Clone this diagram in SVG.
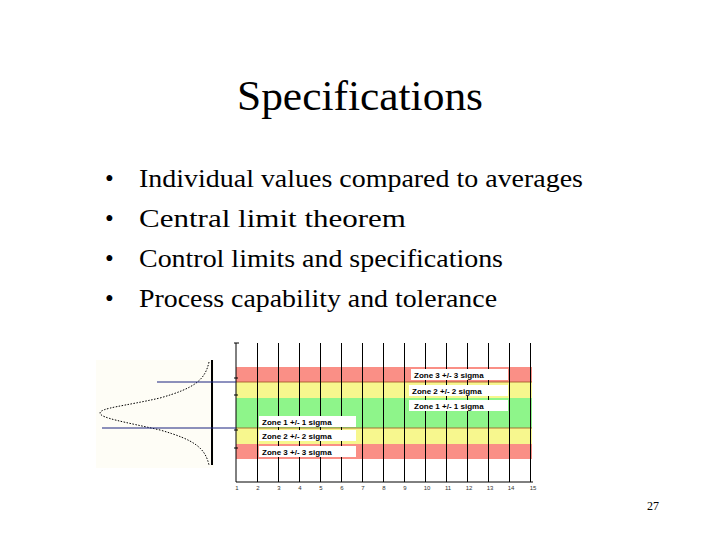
<svg xmlns="http://www.w3.org/2000/svg" width="720" height="540" viewBox="0 0 720 540">
<style>
.t{font-family:"Liberation Serif",serif;fill:#000}
.z{font-family:"Liberation Sans",sans-serif;font-size:8px;font-weight:bold;fill:#000}
.n{font-family:"Liberation Sans",sans-serif;font-size:6px;fill:#333}
.g{stroke:#000;stroke-width:1}
</style>
<rect width="720" height="540" fill="#fff"/>
<text class="t" x="237" y="110" font-size="42" textLength="246" lengthAdjust="spacingAndGlyphs">Specifications</text>
<g class="t" font-size="25">
<text x="105" y="187">•</text><text x="139" y="187" textLength="444" lengthAdjust="spacingAndGlyphs">Individual values compared to averages</text>
<text x="105" y="227">•</text><text x="139" y="227" textLength="267" lengthAdjust="spacingAndGlyphs">Central limit theorem</text>
<text x="105" y="267">•</text><text x="139" y="267" textLength="364" lengthAdjust="spacingAndGlyphs">Control limits and specifications</text>
<text x="105" y="307">•</text><text x="139" y="307" textLength="358" lengthAdjust="spacingAndGlyphs">Process capability and tolerance</text>
</g>
<text class="t" x="659" y="510" font-size="12" text-anchor="end">27</text>
<g id="chart">
<rect x="96" y="360" width="118" height="108" fill="#fefdf6"/>
<rect x="236" y="367" width="296" height="15" fill="#fa8f86"/>
<rect x="236" y="382" width="296" height="16" fill="#f7f78e"/>
<rect x="236" y="398" width="296" height="30" fill="#8ef58a"/>
<rect x="236" y="428" width="296" height="16" fill="#f7f78e"/>
<rect x="236" y="444" width="296" height="15" fill="#fa8f86"/>
<line x1="236" y1="382" x2="532" y2="382" stroke="#a05020" stroke-width="0.8"/>
<line x1="236" y1="428" x2="532" y2="428" stroke="#a05020" stroke-width="0.8"/>
<g class="g">
<line x1="236" y1="343" x2="236" y2="482"/>
<line x1="236" y1="482" x2="533" y2="482"/>
<path d="M257.5 343V482M278.5 343V482M299.5 343V482M320.5 343V482M341.5 343V482M362.5 343V482M383.5 343V482M404.5 343V482M425.5 343V482M446.5 343V482M467.5 343V482M488.5 343V482M509.5 343V482M530.5 343V482"/>
<path d="M234 378H238M234 395H238M234 430H238M234 448H238M234 343H239"/>
</g>
<line x1="212" y1="360" x2="212" y2="465" stroke="#000" stroke-width="2"/>
<path d="M209 362 C205 380,195 388,160 398 C125 406,100 408,100 413 C100 418,125 422,160 430 C195 440,205 448,209 465" fill="none" stroke="#000" stroke-width="1" stroke-dasharray="1.5 1.5"/>
<line x1="157" y1="382" x2="236" y2="382" stroke="#1a237e" stroke-width="1"/>
<line x1="102" y1="428" x2="236" y2="428" stroke="#1a237e" stroke-width="1"/>
<g fill="#fff">
<rect x="411" y="369" width="97" height="11"/>
<rect x="409" y="385" width="99" height="11"/>
<rect x="409" y="400" width="99" height="11"/>
<rect x="259" y="416" width="97" height="11"/>
<rect x="259" y="430" width="97" height="11"/>
<rect x="259" y="446" width="97" height="11"/>
</g>
<text class="z" x="414" y="378">Zone 3 +/- 3 sigma</text>
<text class="z" x="412" y="394" fill="#555">Zone 2 +/- 2 sigma</text>
<text class="z" x="414" y="409">Zone 1 +/- 1 sigma</text>
<text class="z" x="262" y="425">Zone 1 +/- 1 sigma</text>
<text class="z" x="262" y="439">Zone 2 +/- 2 sigma</text>
<text class="z" x="262" y="455">Zone 3 +/- 3 sigma</text>
<g class="n" text-anchor="middle">
<text x="237" y="490">1</text><text x="258" y="490">2</text><text x="279" y="490">3</text><text x="300" y="490">4</text><text x="321" y="490">5</text><text x="342" y="490">6</text><text x="363" y="490">7</text><text x="384" y="490">8</text><text x="405" y="490">9</text><text x="427" y="490">10</text><text x="448" y="490">11</text><text x="469" y="490">12</text><text x="490" y="490">13</text><text x="511" y="490">14</text><text x="533" y="490">15</text>
</g>
</g>
</svg>
